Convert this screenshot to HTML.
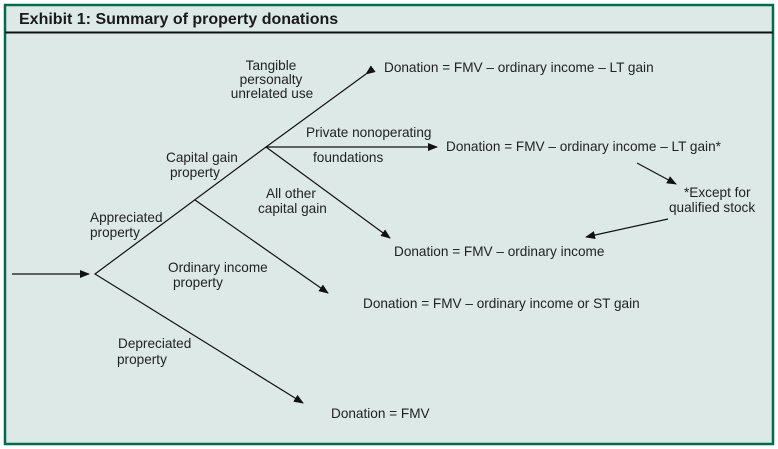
<!DOCTYPE html>
<html><head><meta charset="utf-8"><style>
body{margin:0;width:778px;height:449px;background:#fff;overflow:hidden}
svg{display:block}
text{font-family:"Liberation Sans",Arial,sans-serif;font-size:13.6px;fill:#222}
</style></head><body>
<svg width="778" height="449" viewBox="0 0 778 449">
<defs><marker id="a" markerWidth="10" markerHeight="8" refX="9" refY="4" orient="auto" markerUnits="userSpaceOnUse"><path d="M0,0 L10,4 L0,8 Z" fill="#111"/></marker></defs>
<rect x="5" y="5" width="768" height="439" fill="#dce9e6" stroke="#006b4f" stroke-width="2.5"/>
<line x1="5" y1="32.5" x2="773" y2="32.5" stroke="#111" stroke-width="2"/>
<text x="19" y="24" style="font-size:16px;font-weight:bold;fill:#1a1a1a">Exhibit 1: Summary of property donations</text>
<g stroke="#111" stroke-width="1.2" fill="none">
<line x1="12" y1="274" x2="89" y2="274" marker-end="url(#a)"/>
<polyline points="366,74 266,147 95,274 303,403" marker-start="url(#a)" marker-end="url(#a)"/>
<line x1="266" y1="147" x2="437" y2="147" marker-end="url(#a)"/>
<line x1="266" y1="147" x2="390" y2="238" marker-end="url(#a)"/>
<line x1="195" y1="200" x2="328" y2="293" marker-end="url(#a)"/>
<line x1="637" y1="163" x2="676" y2="184" marker-end="url(#a)"/>
<line x1="668" y1="219" x2="586" y2="237" marker-end="url(#a)"/>
</g>
<text x="271" y="70" text-anchor="middle">Tangible</text>
<text x="271" y="84" text-anchor="middle">personalty</text>
<text x="272" y="98" text-anchor="middle">unrelated use</text>
<text x="384" y="72">Donation = FMV – ordinary income – LT gain</text>
<text x="306" y="137">Private nonoperating</text>
<text x="313" y="162">foundations</text>
<text x="446" y="151">Donation = FMV – ordinary income – LT gain*</text>
<text x="166" y="162">Capital gain</text>
<text x="170" y="177">property</text>
<text x="266" y="198">All other</text>
<text x="258" y="213">capital gain</text>
<text x="684" y="197">*Except for</text>
<text x="669" y="212">qualified stock</text>
<text x="90" y="222">Appreciated</text>
<text x="90" y="237">property</text>
<text x="394" y="256">Donation = FMV – ordinary income</text>
<text x="168" y="272">Ordinary income</text>
<text x="173" y="287">property</text>
<text x="363" y="308">Donation = FMV – ordinary income or ST gain</text>
<text x="118" y="348">Depreciated</text>
<text x="117" y="364">property</text>
<text x="331" y="418">Donation = FMV</text>
</svg>
</body></html>
